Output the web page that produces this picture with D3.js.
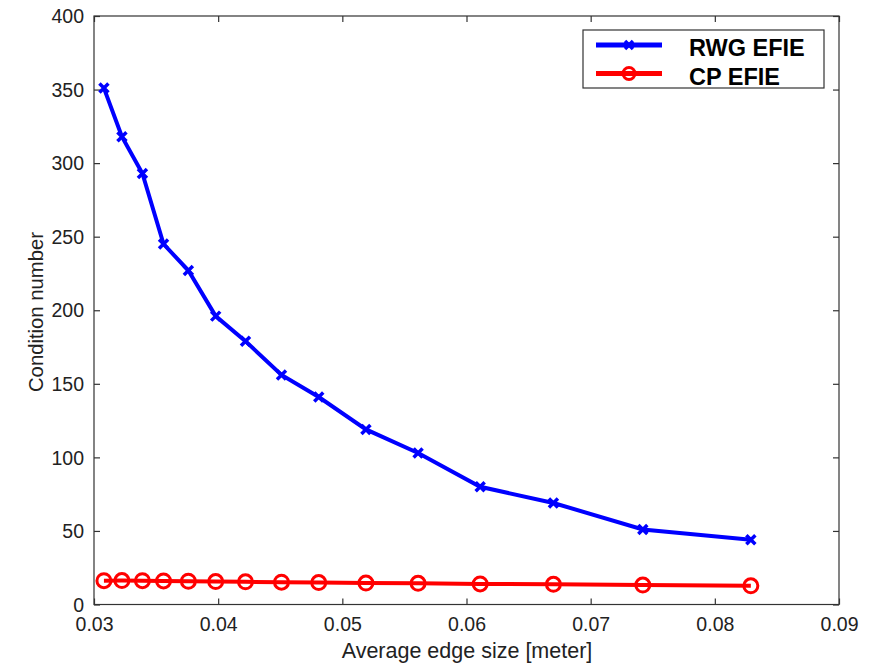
<!DOCTYPE html>
<html>
<head>
<meta charset="utf-8">
<script src="https://cdn.jsdelivr.net/npm/d3@7"></script>
<style>
  body { margin: 0; background: #fff; }
  text { font-family: "Liberation Sans", Arial, sans-serif; }
</style>
</head>
<body>
<svg width="875" height="664"></svg>
<script>
var edgeSize = [0.0308, 0.03225, 0.0339, 0.0356, 0.0376, 0.0398, 0.0422, 0.0451, 0.0481, 0.0519, 0.0561, 0.0611, 0.0670, 0.0742, 0.0829];
var rwgEfie = [351, 318, 293, 245, 227, 196, 179, 156, 141, 119, 103, 80, 69, 51, 44];
var cpEfie = [16.2, 16.3, 16.2, 16, 15.8, 15.6, 15.4, 15.2, 14.9, 14.6, 14.4, 14, 13.7, 13.2, 12.7];
var xTicks = [0.03, 0.04, 0.05, 0.06, 0.07, 0.08, 0.09];
var yTicks = [0, 50, 100, 150, 200, 250, 300, 350, 400];

var svg = d3.select("svg"),
    plotL = 94, plotR = 839, plotT = 16, plotB = 604.5;

var x = d3.scaleLinear().domain([0.03, 0.09]).range([plotL, plotR]);
var y = d3.scaleLinear().domain([0, 400]).range([plotB, plotT]);

var axisColor = "#333";

// frame
svg.append("rect")
    .attr("x", plotL).attr("y", plotT)
    .attr("width", plotR - plotL).attr("height", plotB - plotT)
    .attr("fill", "none").attr("stroke", axisColor).attr("stroke-width", 1.2);

// bottom & left axes, ticks inside
var xAxis = svg.append("g")
    .attr("transform", "translate(0," + plotB + ")")
    .call(d3.axisBottom(x).tickValues(xTicks).tickSizeInner(-6).tickSizeOuter(0).tickPadding(13).tickFormat(d3.format(".2f")));
var yAxis = svg.append("g")
    .attr("transform", "translate(" + plotL + ",0)")
    .call(d3.axisLeft(y).tickValues(yTicks).tickSizeInner(-6).tickSizeOuter(0).tickPadding(10));
// top & right mirrored ticks
var xTop = svg.append("g")
    .attr("transform", "translate(0," + plotT + ")")
    .call(d3.axisTop(x).tickValues(xTicks).tickSizeInner(-6).tickSizeOuter(0).tickFormat(""));
var yRight = svg.append("g")
    .attr("transform", "translate(" + plotR + ",0)")
    .call(d3.axisRight(y).tickValues(yTicks).tickSizeInner(-6).tickSizeOuter(0).tickFormat(""));

[xAxis, yAxis, xTop, yRight].forEach(function(g) {
  g.select(".domain").remove();
  g.selectAll("line").attr("stroke", axisColor).attr("stroke-width", 1.2);
  g.selectAll("text").attr("fill", "#222").style("font-size", "19.5px");
});
yAxis.selectAll("text").attr("dy", "0.34em");

// axis labels
svg.append("text")
    .attr("x", 467).attr("y", 658)
    .attr("text-anchor", "middle")
    .attr("fill", "#222").style("font-size", "21.5px")
    .text("Average edge size [meter]");
svg.append("text")
    .attr("transform", "translate(42.5,312) rotate(-90)")
    .attr("text-anchor", "middle")
    .attr("fill", "#222").style("font-size", "20.3px")
    .text("Condition number");

var line = d3.line()
    .x(function(d) { return x(d[0]); })
    .y(function(d) { return y(d[1]); });

var blueData = d3.zip(edgeSize, rwgEfie),
    redData = d3.zip(edgeSize, cpEfie);

svg.append("path")
    .datum(blueData)
    .attr("d", line)
    .attr("fill", "none").attr("stroke", "#0000ff").attr("stroke-width", 4);

svg.append("path")
    .datum(redData)
    .attr("d", line)
    .attr("fill", "none").attr("stroke", "#ff0000").attr("stroke-width", 4);

function crossMark(g, s) {
  g.append("path")
      .attr("d", "M" + (-s) + "," + (-s) + "L" + s + "," + s + "M" + (-s) + "," + s + "L" + s + "," + (-s))
      .attr("stroke", "#0000ff").attr("stroke-width", 3.5).attr("fill", "none");
}

svg.selectAll(".xm")
    .data(blueData)
  .enter().append("g")
    .attr("class", "xm")
    .attr("transform", function(d) { return "translate(" + x(d[0]) + "," + y(d[1]) + ")"; })
    .each(function() { crossMark(d3.select(this), 4.5); });

svg.selectAll(".om")
    .data(redData)
  .enter().append("circle")
    .attr("class", "om")
    .attr("cx", function(d) { return x(d[0]); })
    .attr("cy", function(d) { return y(d[1]); })
    .attr("r", 7)
    .attr("fill", "none").attr("stroke", "#ff0000").attr("stroke-width", 3);

// legend
var legend = svg.append("g");
legend.append("rect")
    .attr("x", 583).attr("y", 30).attr("width", 241).attr("height", 58)
    .attr("fill", "#fff").attr("stroke", axisColor).attr("stroke-width", 1.2);

var legendItems = [
  {name: "RWG EFIE", color: "#0000ff", mark: "x"},
  {name: "CP EFIE", color: "#ff0000", mark: "o"}
];

legendItems.forEach(function(d, i) {
  var ly = 45 + i * 28.5;
  legend.append("line")
      .attr("x1", 596).attr("x2", 662).attr("y1", ly).attr("y2", ly)
      .attr("stroke", d.color).attr("stroke-width", 5);
  if (d.mark === "x") {
    var g = legend.append("g").attr("transform", "translate(629," + ly + ")");
    crossMark(g, 4);
  } else {
    legend.append("circle")
        .attr("cx", 629).attr("cy", ly).attr("r", 6)
        .attr("fill", "none").attr("stroke", d.color).attr("stroke-width", 3);
  }
  legend.append("text")
      .attr("x", 689).attr("y", 56.3 + i * 29)
      .attr("fill", "#000").style("font-size", "23.5px").style("font-weight", "bold")
      .text(d.name);
});
</script>
</body>
</html>
